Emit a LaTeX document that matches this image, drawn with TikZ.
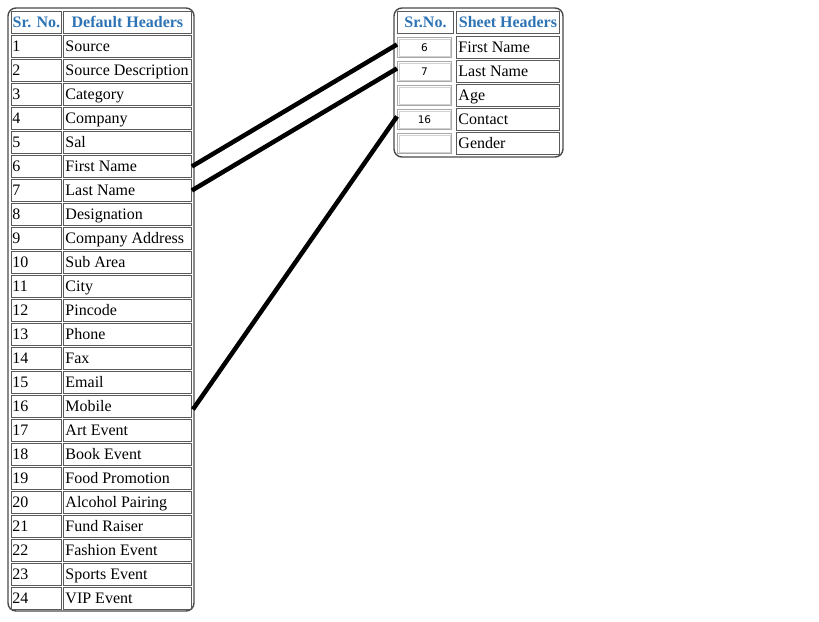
\documentclass[tikz,border=0pt]{standalone}
\usepackage{fontspec}
\setmainfont{Liberation Serif}
\newfontfamily\numfont{DejaVu Sans}
\usetikzlibrary{calc}
\definecolor{hdrblue}{HTML}{2E74B5}
\definecolor{cellgray}{HTML}{5A5A5A}
\definecolor{outergray}{HTML}{4A4A4A}
\definecolor{inputgray}{HTML}{A8A8A8}
\definecolor{inputgrayin}{HTML}{D0D0D0}
\begin{document}
\begin{tikzpicture}[x=1pt,y=-1pt,
  cellbox/.style={draw=cellgray, line width=0.9pt, anchor=north west, inner xsep=2pt, inner ysep=0pt,
    minimum height=22pt, text height=13pt, text depth=3pt,
    font=\fontsize{16}{19}\selectfont},
  hdrbox/.style={cellbox, text=hdrblue, font=\fontsize{16}{19}\selectfont\bfseries},
  inbox/.style={draw=inputgray, line width=0.9pt, anchor=north west, inner sep=0pt,
    minimum width=54pt, minimum height=20pt, text height=7.5pt, text depth=0pt,
    font=\numfont\fontsize{10.5}{12}\selectfont},
  framebox/.style={draw=outergray, line width=1.4pt, rounded corners=8pt},
  conn/.style={draw=black, line width=4.5pt}
]
\useasboundingbox (0,0) rectangle (819,621);
% ---------- left table ----------
\draw[framebox] (8,8) rectangle (194,611);
\node[hdrbox] (lha) at (11,11) {\makebox[46pt][c]{Sr. No.}};
\node[hdrbox] (lhb) at (63,11) {\makebox[124pt][c]{Default Headers}};
\foreach \i/\t in {1/Source, 2/Source Description, 3/Category, 4/Company, 5/Sal,
  6/First Name, 7/Last Name, 8/Designation, 9/Company Address, 10/Sub Area,
  11/City, 12/Pincode, 13/Phone, 14/Fax, 15/Email, 16/Mobile, 17/Art Event,
  18/Book Event, 19/Food Promotion, 20/Alcohol Pairing, 21/Fund Raiser,
  22/Fashion Event, 23/Sports Event, 24/VIP Event}{
  \node[cellbox, inner xsep=1pt] (la\i) at (11,{35+24*(\i-1)}) {\makebox[48pt][l]{\i}};
  \node[cellbox] (lb\i) at (63,{35+24*(\i-1)}) {\makebox[124pt][l]{\t}};
}
% ---------- right table ----------
\draw[framebox] (394,8) rectangle (563,157);
\node[hdrbox] (rha) at (397,11) {\makebox[52pt][c]{Sr.No.}};
\node[hdrbox] (rhb) at (456,11) {\makebox[99pt][c]{Sheet Headers}};
\foreach \i/\n/\t in {1/6/First Name, 2/7/Last Name, 3//Age, 4/16/Contact, 5//Gender}{
  \node[inbox] (ra\i) at (397,{37+24*(\i-1)}) {\n};
  \draw[inputgrayin, line width=0.8pt] ($(ra\i.north west)+(2,2)$) rectangle ($(ra\i.south east)+(-2,-2)$);
  \node[cellbox] (rb\i) at (456,{36+24*(\i-1)}) {\makebox[99pt][l]{\t}};
}
% ---------- connectors ----------
\draw[conn] (lb6.east) -- ($(ra1.west)+(0,-3)$);
\draw[conn] (lb7.east) -- ($(ra2.west)+(0,-3)$);
\draw[conn] ($(lb16.east)+(1,3)$) -- ($(ra4.west)+(0,-3)$);
\end{tikzpicture}
\end{document}
